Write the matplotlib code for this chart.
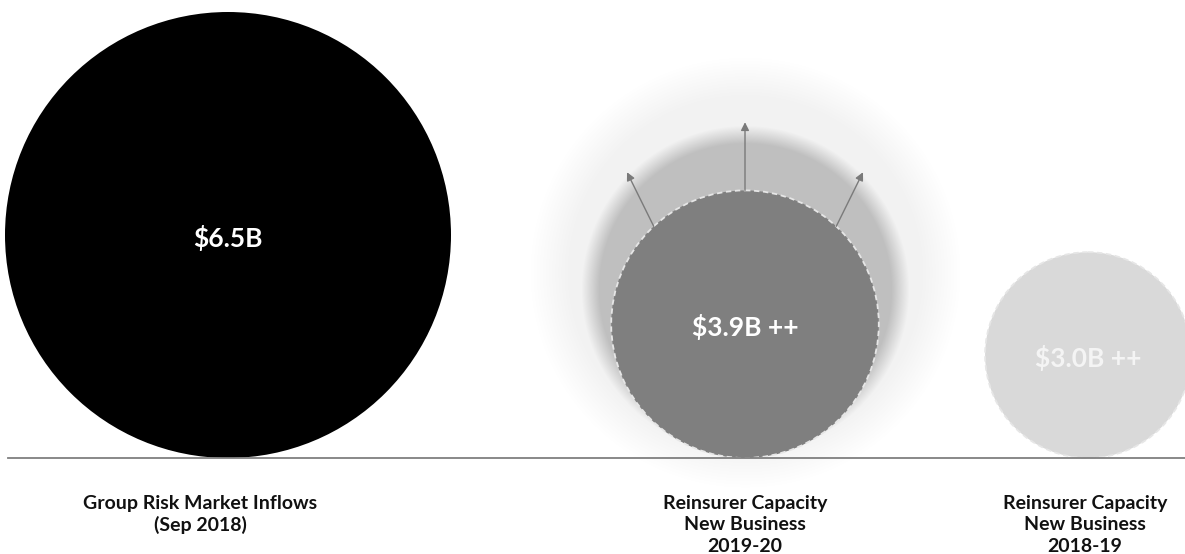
import numpy as np
import matplotlib.pyplot as plt
from matplotlib.patches import Circle

# data
values = [6.5, 3.9, 3.0]
value_labels = ['$6.5B', '$3.9B ++', '$3.0B ++']
cat_labels = [['Group Risk Market Inflows', '(Sep 2018)'],
              ['Reinsurer Capacity', 'New Business', '2019-20'],
              ['Reinsurer Capacity', 'New Business', '2018-19']]

# layout (pixels, y downwards)
W, H = 1185, 554
x_centers = [228, 745, 1088]
label_x = [200, 745, 1085]
base_y = 458
px_per_b = 223 / 6.5
fills = ['#000000', '#7f7f7f', '#d9d9d9']
text_cols = ['white', 'white', '#f4f4f4']

fig = plt.figure(figsize=(W / 100, H / 100), dpi=100)
ax = fig.add_axes([0, 0, 1, 1])
ax.set_xlim(0, W)
ax.set_ylim(H, 0)
ax.set_aspect('equal')
ax.axis('off')


def halo(cx, cy, r, color, soft, z):
    # soft-edged disc drawn as an RGBA image
    yy, xx = np.mgrid[0:H, 0:W]
    d = np.hypot(xx - cx, yy - cy)
    a = np.clip((r - d) / soft + 0.5, 0, 1)
    rgb = np.array(plt.matplotlib.colors.to_rgb(color))
    img = np.zeros((H, W, 4))
    img[..., :3] = rgb
    img[..., 3] = a
    ax.imshow(img, extent=(0, W, H, 0), zorder=z, interpolation='bilinear')


# growth halos behind the middle bubble
mid_r = values[1] * px_per_b
halo(x_centers[1], base_y - mid_r - 52, 195, '#f2f2f2', 40, 1)
halo(x_centers[1], base_y - mid_r - 35, 155, '#bfbfbf', 18, 2)

for i, (v, x) in enumerate(zip(values, x_centers)):
    r = v * px_per_b
    cy = base_y - r
    if i == 0:
        c = Circle((x, cy), r, facecolor=fills[i], edgecolor='none', zorder=4)
    else:
        c = Circle((x, cy), r, facecolor=fills[i], edgecolor='#e6e6e6',
                   lw=1.3, linestyle=(0, (3, 2)), zorder=4)
    ax.add_patch(c)
    ax.text(x, cy + 3, value_labels[i], color=text_cols[i], ha='center', va='center',
            fontsize=19, fontweight='bold', family='Lato', zorder=6)
    for j, line in enumerate(cat_labels[i]):
        ax.text(label_x[i], 503 + 22 * j, line, ha='center', va='center', fontsize=14,
                family='Lato', fontweight='bold', color='#111111')

# arrows pushing out of the middle bubble
cx, cy = x_centers[1], base_y - mid_r
for ang, dx, dy in [(133, -118, -152), (90, 0, -202), (47, 118, -152)]:
    sx = cx + mid_r * np.cos(np.radians(ang))
    sy = cy - mid_r * np.sin(np.radians(ang))
    ax.annotate('', xy=(cx + dx, cy + dy), xytext=(sx, sy), zorder=5,
                arrowprops=dict(arrowstyle='-|>', color='#7a7a7a', lw=1,
                                mutation_scale=12, shrinkA=0, shrinkB=0))

ax.plot([8, W], [base_y, base_y], color='#7f7f7f', lw=1.3, zorder=7)

fig.savefig('out.png', dpi=100)
